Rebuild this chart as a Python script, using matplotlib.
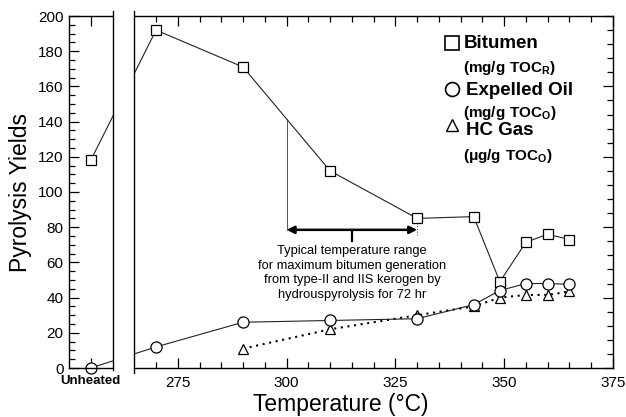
import numpy as np
import matplotlib
matplotlib.use("Agg")
from matplotlib import pyplot as plt
from matplotlib.ticker import MultipleLocator, FixedLocator, NullFormatter
from matplotlib.patches import Rectangle
import matplotlib.transforms as mtransforms

plt.rcParams['font.family'] = ['Liberation Sans', 'DejaVu Sans']
plt.rcParams['mathtext.fontset'] = 'custom'
plt.rcParams['mathtext.rm'] = 'Liberation Sans'
plt.rcParams['mathtext.bf'] = 'Liberation Sans:bold'

# ---- data ----
temps = [270, 290, 310, 330, 343, 349, 355, 360, 365]
bitumen = [192, 171, 112, 85, 86, 49, 71.5, 76, 73]
oil = [12, 26, 27, 28, 36, 44, 48, 48, 47.5]
gas_temps = [290, 310, 330, 343, 349, 355, 360, 365]
gas = [11, 22, 30, 35, 40, 41.5, 41.5, 43.5]
unheated_bitumen = 118
unheated_oil = 0

x_ticks = [275, 300, 325, 350, 375]
y_ticks = [0, 20, 40, 60, 80, 100, 120, 140, 160, 180, 200]

UNHEATED_X = 255        # where the "Unheated" column sits on the axis
GAP = (260, 265)        # axis break

fig = plt.figure()
fig.set_size_inches(6.26, 4.17)
ax = fig.add_axes([69/626, 1-368/417, 544/626, 352/417])
ax.set_xlim(250, 375)
ax.set_ylim(0, 200)

lc = '#222222'
ax.plot([UNHEATED_X] + temps, [unheated_bitumen] + bitumen, '-', color=lc, lw=0.8,
        marker='s', ms=6.5, mfc='white', mec='black', mew=0.9, clip_on=False, zorder=2)
ax.plot([UNHEATED_X] + temps, [unheated_oil] + oil, '-', color=lc, lw=0.8,
        marker='o', ms=8, mfc='white', mec='black', mew=0.9, clip_on=False, zorder=2.2)
ax.plot(gas_temps, gas, color='black', lw=1.5, ls=(0, (1, 2.2)),
        marker='^', ms=7, mfc='white', mec='black', mew=0.9, clip_on=False, zorder=2.1)

# axis break: blank the gap and draw the two inner edges
blend = mtransforms.blended_transform_factory(ax.transData, ax.transAxes)
ax.add_patch(Rectangle((GAP[0], -0.03), GAP[1]-GAP[0], 1.06, transform=blend,
                       facecolor='white', edgecolor='none', zorder=4, clip_on=False))
ax.plot([GAP[0], GAP[0]], [-0.005, 1.014], color='black', lw=1.0, transform=blend,
        clip_on=False, zorder=5)
ax.plot([GAP[1], GAP[1]], [-0.014, 1.014], color='black', lw=1.0, transform=blend,
        clip_on=False, zorder=5)

# ticks
ax.xaxis.set_major_locator(FixedLocator([UNHEATED_X] + x_ticks))
ax.set_xticklabels([''] + [str(t) for t in x_ticks])
ax.xaxis.set_minor_locator(FixedLocator([t for t in np.arange(270, 375, 5) if t not in x_ticks]))
ax.set_yticks(y_ticks)
ax.yaxis.set_minor_locator(MultipleLocator(5))
ax.tick_params(axis='both', which='both', direction='in', width=0.9)
ax.tick_params(axis='x', which='both', top=True)
ax.tick_params(axis='y', which='both', right=False)
ax.tick_params(which='major', length=7, labelsize=11)
ax.tick_params(which='minor', length=4)
ax.tick_params(axis='x', pad=6)
ax.tick_params(axis='y', pad=4)
for s in ax.spines.values():
    s.set_linewidth(1.0)
ax.spines['right'].set_visible(False)

ax.text(UNHEATED_X, -0.02, 'Unheated', transform=blend, ha='center', va='top',
        fontsize=9.5, fontweight='bold', zorder=6,
        family=['Liberation Sans Narrow', 'Liberation Sans'])

# right-hand scale ticks (no labels)
ax2 = ax.twinx()
ax2.set_ylim(0, 250)
ax2.yaxis.set_major_locator(MultipleLocator(50))
ax2.yaxis.set_minor_locator(MultipleLocator(10))
ax2.yaxis.set_major_formatter(NullFormatter())
ax2.tick_params(axis='y', which='both', direction='in', width=0.9)
ax2.tick_params(which='major', length=7)
ax2.tick_params(which='minor', length=4)
for k in ['top', 'bottom', 'left']:
    ax2.spines[k].set_visible(False)
ax2.spines['right'].set_linewidth(1.0)

ax.set_xlabel('Temperature (°C)', fontsize=16.5, labelpad=2)
ax.set_ylabel('Pyrolysis Yields', fontsize=16.5, labelpad=4)

# temperature range annotation
y300 = np.interp(300, temps, bitumen)
y330 = np.interp(330, temps, bitumen)
ax.plot([300, 300], [78.5, y300], color='#555555', lw=0.7, zorder=1.5)
ax.plot([330, 330], [75.5, y330], color='#555555', lw=0.8, ls=(0, (1, 1.5)), zorder=1.5)
ax.annotate('', xy=(330, 78.5), xytext=(300, 78.5),
            arrowprops=dict(arrowstyle='<|-|>', lw=1.8, color='black',
                            mutation_scale=11, shrinkA=0, shrinkB=0))
ax.plot([315, 315], [78.5, 72], color='black', lw=1.6)
ax.text(315, 70, 'Typical temperature range\nfor maximum bitumen generation\n'
        'from type-II and IIS kerogen by\nhydrouspyrolysis for 72 hr',
        ha='center', va='top', fontsize=9.3, linespacing=1.3)

# legend drawn by hand
ax.plot([0.704], [0.923], 's', ms=10, mfc='white', mec='black', mew=1.2,
        transform=ax.transAxes)
ax.plot([0.704], [0.793], 'o', ms=10, mfc='white', mec='black', mew=1.2,
        transform=ax.transAxes)
ax.plot([0.704], [0.690], '^', ms=9, mfc='white', mec='black', mew=1.0,
        transform=ax.transAxes)
lg = dict(transform=ax.transAxes, ha='left', va='center', fontweight='bold')
ax.text(0.726, 0.921, 'Bitumen', fontsize=13.5, **lg)
ax.text(0.725, 0.852, r'$\mathbf{(mg/g\ TOC_R)}$', fontsize=11, **lg)
ax.text(0.729, 0.789, 'Expelled Oil', fontsize=13.5, **lg)
ax.text(0.725, 0.724, r'$\mathbf{(mg/g\ TOC_O)}$', fontsize=11, **lg)
ax.text(0.729, 0.674, 'HC Gas', fontsize=13.5, **lg)
ax.text(0.725, 0.602, r'$\mathbf{(μg/g\ TOC_O)}$', fontsize=11, **lg)

fig.savefig('out.png', dpi=100)
